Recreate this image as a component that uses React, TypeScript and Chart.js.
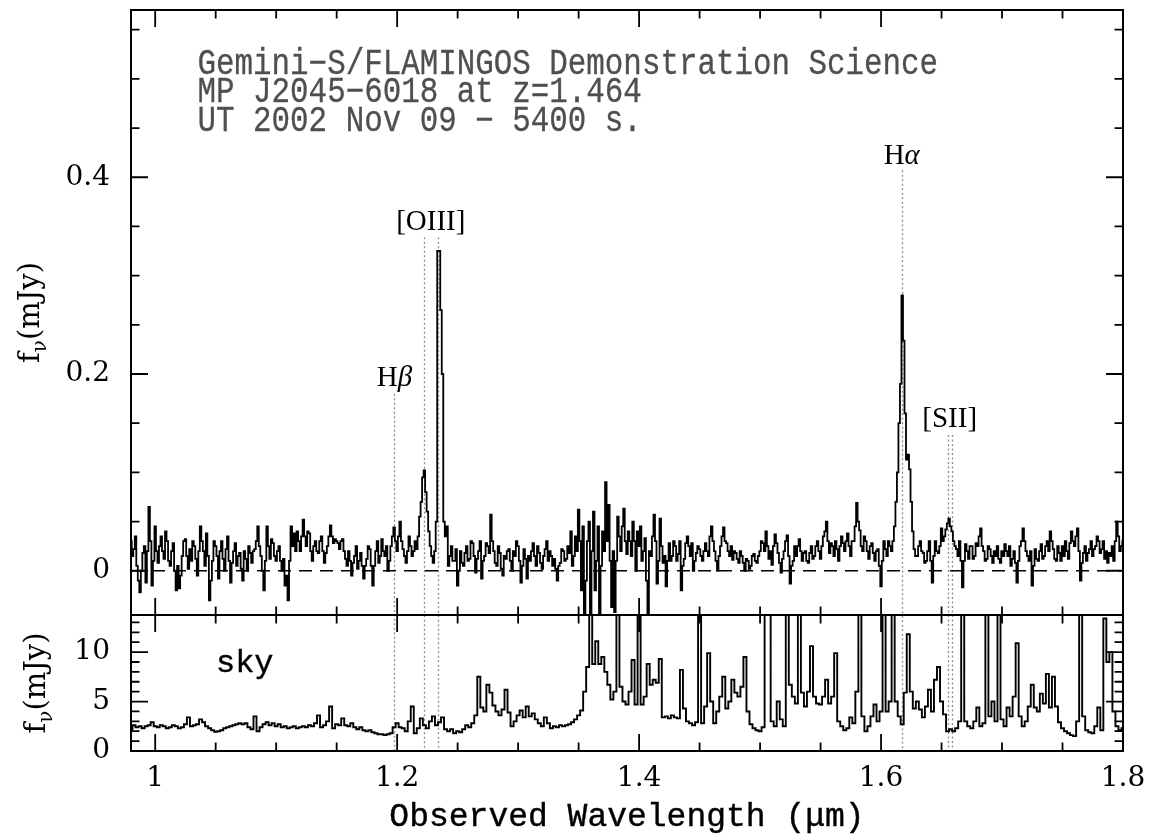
import React, { useEffect, useRef } from "react";
import { Chart, registerables } from "chart.js";

Chart.register(...registerables);

// ---------- data ----------
const WAVE_START = 0.98; // micron, first sample of both spectra
const OBJECT_STEP = 0.00125; // micron per sample (object spectrum)
const SKY_STEP = 0.0025; // micron per sample (sky spectrum)
const X_MIN = 0.98;
const X_MAX = 1.8;
const X_MINOR = 0.05;
const X_MAJOR = 0.2;
const FLUX_MIN = -0.045;
const FLUX_MAX = 0.57;
const SKY_MIN = 0;
const SKY_MAX = 13.75;

const OBJECT_FLUX = [
  0.030, 0.015, 0.022, 0.035, 0.005, -0.010, -0.022, 0.000, 0.018, 0.025, -0.012, 0.020, 0.065, 0.030, -0.015, 0.010, 0.045, 0.020, 0.008, 0.025,
  0.035, 0.020, 0.012, 0.040, 0.030, 0.010, 0.005, 0.020, 0.028, 0.000, -0.020, 0.005, -0.018, -0.005, 0.015, 0.030, 0.032, 0.015, 0.002, 0.022,
  0.010, 0.030, 0.025, 0.012, -0.005, 0.020, 0.045, 0.030, 0.020, 0.005, 0.038, 0.015, -0.030, -0.010, 0.010, 0.030, 0.025, 0.015, -0.008, 0.020,
  0.030, 0.012, 0.000, 0.022, 0.035, 0.010, -0.012, 0.008, 0.020, 0.028, 0.005, 0.015, 0.018, 0.002, -0.010, 0.020, 0.012, 0.000, 0.025, 0.018,
  0.008, 0.020, 0.022, 0.030, 0.045, 0.025, 0.015, 0.000, -0.020, 0.010, 0.045, 0.025, 0.012, 0.032, 0.028, 0.015, 0.010, 0.020, 0.025, 0.010,
  0.000, 0.012, -0.015, -0.005, -0.030, 0.010, 0.045, 0.025, 0.038, 0.020, 0.040, 0.030, 0.020, 0.035, 0.052, 0.035, 0.025, 0.040, 0.038, 0.020,
  0.010, 0.025, 0.030, 0.020, 0.018, 0.030, 0.035, 0.020, 0.008, 0.018, 0.025, 0.035, 0.046, 0.035, 0.028, 0.032, 0.030, 0.028, 0.022, 0.030,
  0.032, 0.020, 0.012, 0.005, 0.020, 0.010, -0.005, 0.008, 0.015, 0.025, 0.002, 0.010, 0.018, 0.005, -0.008, 0.005, 0.012, 0.025, 0.022, 0.005,
  -0.015, 0.005, 0.020, 0.030, 0.008, 0.015, 0.032, 0.020, 0.015, 0.025, 0.000, 0.010, 0.025, 0.035, 0.044, 0.030, 0.020, 0.035, 0.050, 0.030,
  0.022, 0.015, 0.008, 0.020, 0.035, 0.025, 0.015, 0.020, 0.030, 0.022, 0.035, 0.055, 0.070, 0.095, 0.102, 0.080, 0.060, 0.040, 0.025, 0.015,
  0.008, 0.020, 0.050, 0.325, 0.325, 0.265, 0.200, 0.050, 0.035, 0.045, 0.005, 0.015, 0.025, 0.010, 0.010, 0.022, -0.015, 0.000, 0.020, 0.008,
  0.005, 0.018, 0.025, 0.010, 0.012, 0.030, 0.028, 0.015, -0.002, 0.012, 0.020, 0.030, -0.008, 0.010, 0.015, 0.028, 0.025, 0.018, 0.057, 0.030,
  0.020, 0.008, 0.005, 0.025, 0.018, 0.002, -0.005, 0.015, 0.012, 0.020, 0.022, 0.010, 0.000, 0.020, 0.015, 0.030, 0.025, 0.010, -0.012, 0.005,
  0.022, 0.012, -0.008, 0.015, 0.010, 0.020, 0.028, 0.015, 0.005, 0.025, 0.018, 0.008, 0.002, 0.015, 0.022, 0.030, 0.010, 0.020, 0.015, 0.005,
  0.012, 0.002, -0.010, 0.005, 0.008, 0.022, 0.020, 0.010, 0.012, 0.025, 0.018, 0.040, 0.005, 0.015, 0.035, 0.020, 0.062, 0.030, -0.020, 0.045,
  -0.050, -0.010, 0.030, 0.050, -0.045, 0.020, 0.060, -0.020, 0.010, 0.045, -0.050, 0.005, 0.040, 0.020, 0.090, 0.030, 0.067, 0.010, -0.037, 0.020,
  -0.042, 0.010, 0.055, 0.035, 0.020, 0.045, 0.063, 0.030, 0.017, 0.040, 0.030, 0.015, 0.050, 0.030, 0.000, 0.040, 0.025, 0.045, 0.010, 0.020,
  0.033, -0.010, -0.050, 0.020, 0.015, 0.035, 0.057, 0.030, -0.013, 0.010, 0.053, 0.025, 0.008, 0.015, -0.016, 0.010, 0.028, 0.010, 0.015, 0.030,
  0.025, 0.010, 0.017, 0.030, -0.020, 0.005, 0.012, 0.028, 0.035, 0.025, 0.015, 0.028, 0.000, 0.010, 0.018, 0.025, 0.022, 0.015, 0.010, 0.020,
  0.028, 0.020, 0.015, 0.035, 0.045, 0.030, 0.020, 0.010, 0.000, 0.015, 0.025, 0.035, 0.044, 0.030, 0.028, 0.020, 0.015, 0.025, 0.011, 0.020,
  0.018, 0.012, 0.008, 0.020, 0.015, 0.008, 0.000, 0.012, 0.010, 0.002, 0.005, 0.015, 0.017, 0.010, 0.008, 0.015, 0.020, 0.030, 0.028, 0.020,
  0.040, 0.025, 0.012, 0.020, 0.006, 0.025, 0.037, 0.028, 0.018, 0.008, -0.002, 0.012, 0.020, 0.030, 0.036, 0.015, -0.013, 0.005, 0.010, 0.025,
  0.015, 0.025, 0.032, 0.020, 0.010, 0.018, 0.020, 0.010, 0.008, 0.018, 0.025, 0.012, 0.015, 0.025, 0.030, 0.020, 0.012, 0.025, 0.035, 0.040,
  0.050, 0.030, 0.018, 0.028, 0.025, 0.015, 0.030, 0.022, 0.010, 0.025, 0.035, 0.028, 0.020, 0.030, 0.038, 0.025, 0.015, 0.030, 0.030, 0.045,
  0.069, 0.050, 0.041, 0.025, 0.020, 0.035, 0.030, 0.020, 0.012, 0.025, 0.028, 0.018, 0.010, 0.020, 0.022, 0.005, -0.016, 0.010, 0.030, 0.022,
  0.015, 0.030, 0.025, 0.020, 0.030, 0.045, 0.070, 0.100, 0.150, 0.190, 0.280, 0.234, 0.160, 0.113, 0.118, 0.103, 0.070, 0.040, 0.022, 0.015,
  0.015, 0.025, 0.030, 0.020, 0.018, 0.008, 0.010, 0.020, 0.030, 0.010, -0.012, 0.015, 0.030, 0.020, 0.018, 0.025, 0.043, 0.030, 0.035, 0.042,
  0.048, 0.053, 0.045, 0.040, 0.030, 0.025, 0.022, 0.015, 0.030, 0.010, -0.017, 0.010, 0.027, 0.020, 0.012, 0.025, 0.025, 0.012, 0.015, 0.028,
  0.025, 0.035, 0.043, 0.025, 0.020, 0.010, 0.012, 0.025, 0.022, 0.015, 0.008, 0.020, 0.015, 0.025, 0.012, 0.008, 0.020, 0.015, 0.027, 0.020,
  0.015, 0.025, 0.005, 0.012, 0.020, 0.008, -0.012, 0.010, 0.025, 0.030, 0.043, 0.030, 0.020, 0.015, 0.010, 0.020, -0.015, 0.005, 0.022, 0.012,
  0.010, 0.020, 0.027, 0.012, 0.015, 0.025, 0.030, 0.020, 0.040, 0.030, 0.022, 0.012, 0.010, 0.025, 0.018, 0.010, 0.025, 0.015, 0.030, 0.020,
  0.012, 0.028, 0.040, 0.030, 0.025, 0.035, 0.043, 0.020, -0.010, 0.008, 0.018, 0.025, 0.010, 0.018, 0.022, 0.030, 0.015, 0.022, 0.025, 0.035,
  0.030, 0.018, 0.022, 0.030, 0.012, 0.020, 0.008, 0.018, 0.015, 0.025, 0.010, 0.030, 0.050, 0.035, 0.020, 0.025, 0.030,
];

const SKY_FLUX = [
  2.2, 2.6, 2.4, 2.5, 2.3, 2.5, 2.6, 2.9, 2.5, 2.4, 2.6, 2.5, 2.3, 2.4, 2.6, 2.5, 2.3, 2.4, 2.7, 3.4,
  2.5, 2.6, 2.7, 3.2, 2.9, 2.5, 2.3, 2.1, 1.95, 2.0, 2.1, 2.3, 2.4, 2.5, 2.6, 2.7, 2.8, 2.7, 2.8, 2.4,
  2.2, 3.5, 2.0, 2.4, 2.7, 2.9, 2.6, 2.8, 2.5, 2.7, 2.4, 2.5, 2.3, 2.4, 2.5, 2.3, 2.4, 2.5, 2.4, 2.6,
  2.5, 2.8, 3.6, 2.4, 2.6, 3.0, 4.5, 2.3, 2.7, 2.6, 3.3, 2.6, 2.5, 2.8, 2.4, 2.2, 2.4, 2.1, 2.0, 2.1,
  1.9, 1.8, 1.7, 1.7, 1.6, 1.7, 1.8, 2.4, 2.8, 2.4, 2.3, 2.0, 3.0, 4.5, 1.8, 2.3, 3.3, 2.6, 2.3, 3.0,
  3.5, 2.6, 2.9, 3.4, 2.2, 2.0, 2.2, 1.8, 2.0, 1.9, 2.2, 2.6, 2.4, 2.8, 3.6, 7.5, 4.4, 4.0, 6.7, 5.9,
  4.6, 4.0, 3.6, 4.2, 6.2, 3.9, 2.5, 3.0, 3.6, 4.1, 3.4, 4.5, 3.5, 3.8, 3.2, 2.8, 2.5, 3.4, 2.8, 2.3,
  2.5, 2.4, 2.6, 2.5, 2.6, 2.7, 2.9, 3.2, 3.6, 4.1, 6.0, 8.5, 18, 8.8, 11.1, 8.8, 9.5, 8.0, 6.7, 5.2,
  6.0, 20, 6.5, 5.0, 4.7, 6.0, 9.2, 4.7, 18, 4.7, 5.5, 8.8, 6.7, 7.2, 6.9, 9.3, 3.4, 3.5, 3.3, 3.6,
  3.4, 3.3, 8.2, 4.3, 3.0, 2.8, 2.6, 2.9, 22, 2.8, 4.5, 9.9, 5.0, 2.8, 4.0, 5.5, 7.5, 4.3, 5.0, 7.2,
  5.9, 5.5, 6.5, 9.5, 4.0, 2.7, 2.3, 2.1, 2.0, 2.4, 20, 18, 3.0, 2.5, 5.0, 3.2, 2.5, 17, 6.7, 5.5,
  4.8, 19, 5.9, 4.5, 6.0, 10.6, 5.5, 4.8, 4.7, 5.5, 7.2, 4.8, 5.5, 9.9, 3.0, 2.5, 2.1, 2.3, 3.4, 2.8,
  6.0, 20, 3.5, 2.0, 2.5, 3.5, 4.7, 3.0, 4.0, 19, 4.0, 5.0, 18, 5.0, 3.5, 2.7, 5.9, 11.8, 6.0, 4.3,
  5.0, 4.2, 3.4, 4.5, 6.2, 4.0, 7.2, 8.5, 5.0, 3.7, 2.0, 2.2, 2.0, 2.3, 3.0, 21, 3.0, 2.5, 2.3, 3.0,
  4.4, 2.5, 2.8, 19, 3.5, 5.0, 3.0, 20, 3.2, 2.5, 4.4, 3.5, 5.5, 10.9, 3.5, 2.5, 3.0, 4.5, 6.7, 4.4,
  4.0, 5.8, 4.8, 7.8, 4.4, 7.5, 4.5, 2.9, 2.3, 2.0, 1.8, 1.6, 1.5, 3.0, 19, 3.5, 2.1, 1.9, 1.8, 2.5,
  4.4, 2.1, 13.4, 9.0, 10.0, 4.0, 2.5, 2.1, 2.3,
];

const ZERO_LEVEL = [0, 0];

const LINE_LABELS = ["Hβ", "[OIII]", "Hα", "[SII]"];
const LINE_WAVELENGTHS = [[1.1978], [1.2219, 1.2337], [1.6171], [1.655, 1.6585]];
const LINE_MARK_TOP = [0.18, 0.339, 0.407, 0.138];
const LINE_LABEL_BASE = [0.188, 0.346, 0.413, 0.146];

const NOTE_LINES = [
  "Gemini−S/FLAMINGOS Demonstration Science",
  "MP J2045−6018 at z=1.464",
  "UT 2002 Nov 09 − 5400 s.",
];
const NOTE_X = 1.035;
const NOTE_Y = [0.505, 0.476, 0.447];
const SKY_LABEL = "sky";
const SKY_LABEL_POS = [1.0502, 8.0];
const X_TITLE = "Observed Wavelength (μm)";

// ---------- drawing helpers ----------
const MONO = "'Liberation Mono', 'Courier New', monospace";
const SERIF = "'DejaVu Serif', serif";
const TIMES = "'Liberation Serif', 'Times New Roman', serif";

function drawPanel(ctx: CanvasRenderingContext2D, x: any, y: any, yMinor: number, yMajor: number) {
  const l = x.left, r = x.right, t = y.top, b = y.bottom;
  ctx.save();
  ctx.setLineDash([]);
  ctx.strokeStyle = "#000";
  ctx.lineWidth = 2;
  ctx.strokeRect(l, t, r - l, b - t);
  ctx.lineWidth = 1.8;
  ctx.beginPath();
  const kx0 = Math.ceil(X_MIN / X_MINOR - 1e-9);
  const kx1 = Math.floor(X_MAX / X_MINOR + 1e-9);
  for (let k = kx0; k <= kx1; k++) {
    const v = k * X_MINOR;
    const major = Math.abs(v / X_MAJOR - Math.round(v / X_MAJOR)) < 1e-6;
    const len = major ? 17 : 8.5;
    const px = x.getPixelForValue(v);
    ctx.moveTo(px, b);
    ctx.lineTo(px, b - len);
    ctx.moveTo(px, t);
    ctx.lineTo(px, t + len);
  }
  const ky0 = Math.ceil(y.min / yMinor - 1e-9);
  const ky1 = Math.floor(y.max / yMinor + 1e-9);
  for (let k = ky0; k <= ky1; k++) {
    const v = k * yMinor;
    const major = Math.abs(v / yMajor - Math.round(v / yMajor)) < 1e-6;
    const len = major ? 17 : 8.5;
    const py = y.getPixelForValue(v);
    ctx.moveTo(l, py);
    ctx.lineTo(l + len, py);
    ctx.moveTo(r, py);
    ctx.lineTo(r - len, py);
  }
  ctx.stroke();
  ctx.restore();
}

function drawYTitle(ctx: CanvasRenderingContext2D, baseX: number, centerY: number) {
  const fMain = `29px ${SERIF}`;
  const fSub = `20px ${SERIF}`;
  ctx.save();
  ctx.translate(baseX, centerY);
  ctx.rotate(-Math.PI / 2);
  ctx.fillStyle = "#000";
  ctx.textAlign = "left";
  ctx.textBaseline = "alphabetic";
  ctx.font = fMain;
  const wf = ctx.measureText("f").width;
  const wp = ctx.measureText("(mJy)").width;
  ctx.font = fSub;
  const wn = ctx.measureText("ν").width;
  const start = -(wf + wn + wp) / 2;
  ctx.font = fMain;
  ctx.fillText("f", start, 0);
  ctx.font = fSub;
  ctx.fillText("ν", start + wf, 7);
  ctx.font = fMain;
  ctx.fillText("(mJy)", start + wf + wn, 0);
  ctx.restore();
}

function heavyText(ctx: CanvasRenderingContext2D, s: string, px: number, py: number, w: number) {
  ctx.fillText(s, px, py);
  ctx.lineWidth = w;
  ctx.strokeText(s, px, py);
}

const decorPlugin = {
  id: "spectrumDecor",
  beforeDatasetsDraw(chart: any) {
    const { ctx, scales } = chart;
    const x = scales.x, yt = scales.y, ys = scales.ySky;
    ctx.save();
    ctx.strokeStyle = "#8c8c8c";
    ctx.lineWidth = 1.3;
    ctx.setLineDash([2, 2.5]);
    LINE_WAVELENGTHS.forEach((ws, k) => {
      ws.forEach((w) => {
        const px = Math.round(x.getPixelForValue(w)) + 0.5;
        ctx.beginPath();
        ctx.moveTo(px, yt.getPixelForValue(LINE_MARK_TOP[k]));
        ctx.lineTo(px, ys.bottom);
        ctx.stroke();
      });
    });
    ctx.restore();
  },
  beforeDatasetDraw(chart: any, args: any) {
    const ys = args.meta.yScale;
    const a = chart.chartArea;
    chart.ctx.save();
    chart.ctx.beginPath();
    chart.ctx.rect(a.left, ys.top, a.right - a.left, ys.bottom - ys.top);
    chart.ctx.clip();
  },
  afterDatasetDraw(chart: any) {
    chart.ctx.restore();
  },
  afterDatasetsDraw(chart: any) {
    const { ctx, scales } = chart;
    const x = scales.x, yt = scales.y, ys = scales.ySky;
    drawPanel(ctx, x, yt, 0.05, 0.2);
    drawPanel(ctx, x, ys, 1, 5);

    // annotation block
    ctx.save();
    ctx.fillStyle = "#4f4f4f";
    ctx.strokeStyle = "#4f4f4f";
    ctx.font = `36px ${MONO}`;
    ctx.textAlign = "left";
    ctx.textBaseline = "alphabetic";
    NOTE_LINES.forEach((s, i) => {
      ctx.save();
      ctx.translate(x.getPixelForValue(NOTE_X), yt.getPixelForValue(NOTE_Y[i]));
      ctx.scale(0.857, 1);
      heavyText(ctx, s, 0, 0, 0.3);
      ctx.restore();
    });
    ctx.restore();

    // x axis title
    ctx.save();
    ctx.fillStyle = "#000";
    ctx.strokeStyle = "#000";
    ctx.font = `33px ${MONO}`;
    ctx.textAlign = "center";
    ctx.textBaseline = "alphabetic";
    heavyText(ctx, X_TITLE, (x.left + x.right) / 2, x.bottom - 8, 0.4);
    ctx.restore();

    // emission line labels
    ctx.save();
    ctx.fillStyle = "#000";
    ctx.textAlign = "left";
    ctx.textBaseline = "alphabetic";
    const fMain = `29px ${TIMES}`;
    const fGreek = `italic 29px ${TIMES}`;
    LINE_LABELS.forEach((lab, k) => {
      const ws = LINE_WAVELENGTHS[k];
      const cx = x.getPixelForValue(ws.reduce((a, b) => a + b, 0) / ws.length);
      const by = yt.getPixelForValue(LINE_LABEL_BASE[k]);
      const greek = /[α-ω]$/.test(lab);
      const main = greek ? lab.slice(0, -1) : lab;
      const g = greek ? lab.slice(-1) : "";
      ctx.font = fMain;
      const w1 = ctx.measureText(main).width;
      ctx.font = fGreek;
      const w2 = g ? ctx.measureText(g).width : 0;
      const sx = cx - (w1 + w2) / 2;
      ctx.font = fMain;
      ctx.fillText(main, sx, by);
      if (g) {
        ctx.font = fGreek;
        ctx.fillText(g, sx + w1, by);
      }
    });
    ctx.restore();

    // sky label
    ctx.save();
    ctx.fillStyle = "#000";
    ctx.strokeStyle = "#000";
    ctx.font = `32px ${MONO}`;
    ctx.textAlign = "left";
    ctx.textBaseline = "alphabetic";
    heavyText(ctx, SKY_LABEL, x.getPixelForValue(SKY_LABEL_POS[0]), ys.getPixelForValue(SKY_LABEL_POS[1]), 0.4);
    ctx.restore();

    // y titles
    drawYTitle(ctx, 38.5, (yt.top + yt.bottom) / 2);
    drawYTitle(ctx, 45, (ys.top + ys.bottom) / 2);
  },
};

const fmtTick = (v: any) => String(Math.round(Number(v) * 1000) / 1000);

export default function App() {
  const canvasRef = useRef<HTMLCanvasElement | null>(null);

  useEffect(() => {
    const canvas = canvasRef.current;
    if (!canvas) return;
    const objectPoints = OBJECT_FLUX.map((v, i) => ({ x: WAVE_START + i * OBJECT_STEP, y: v }));
    const skyPoints = SKY_FLUX.map((v, i) => ({ x: WAVE_START + i * SKY_STEP, y: v }));
    const zeroPoints = [
      { x: X_MIN, y: ZERO_LEVEL[0] },
      { x: X_MAX, y: ZERO_LEVEL[1] },
    ];
    const tickFont = { family: SERIF, size: 28 };
    const noPad = (s: any) => {
      s.paddingTop = 0;
      s.paddingBottom = 0;
      s.paddingLeft = 0;
      s.paddingRight = 0;
    };

    const chart = new Chart(canvas, {
      type: "line",
      data: {
        datasets: [
          {
            label: "zero",
            data: zeroPoints,
            xAxisID: "x",
            yAxisID: "y",
            borderColor: "#000",
            borderWidth: 1.5,
            borderDash: [13, 8],
            pointRadius: 0,
            fill: false,
          },
          {
            label: "MP J2045-6018",
            data: objectPoints,
            xAxisID: "x",
            yAxisID: "y",
            borderColor: "#000",
            borderWidth: 1.8,
            pointRadius: 0,
            stepped: "middle",
            fill: false,
          },
          {
            label: "sky",
            data: skyPoints,
            xAxisID: "x",
            yAxisID: "ySky",
            borderColor: "#000",
            borderWidth: 1.9,
            pointRadius: 0,
            stepped: "middle",
            fill: false,
          },
        ],
      },
      options: {
        responsive: false,
        animation: false,
        events: [],
        layout: { padding: { left: 0, top: 10, right: 28, bottom: 0 } },
        plugins: { legend: { display: false }, tooltip: { enabled: false } },
        scales: {
          x: {
            type: "linear",
            position: "bottom",
            min: X_MIN,
            max: X_MAX,
            grid: { display: false, drawTicks: false },
            border: { display: false },
            ticks: {
              stepSize: X_MAJOR,
              includeBounds: false,
              autoSkip: false,
              maxRotation: 0,
              font: tickFont,
              color: "#000",
              padding: 11,
              callback: fmtTick,
            },
            title: { display: false },
            afterFit: (s: any) => {
              s.height = 83;
              noPad(s);
            },
          },
          y: {
            type: "linear",
            position: "left",
            stack: "panels",
            stackWeight: 605,
            weight: 1,
            min: FLUX_MIN,
            max: FLUX_MAX,
            grid: { display: false, drawTicks: false },
            border: { display: false },
            ticks: {
              stepSize: 0.2,
              includeBounds: false,
              font: tickFont,
              color: "#000",
              padding: 21,
              callback: fmtTick,
            },
            afterFit: (s: any) => {
              s.width = 131;
              noPad(s);
            },
          },
          ySky: {
            type: "linear",
            position: "left",
            stack: "panels",
            stackWeight: 136,
            weight: 0,
            min: SKY_MIN,
            max: SKY_MAX,
            grid: { display: false, drawTicks: false },
            border: { display: false },
            ticks: {
              stepSize: 5,
              includeBounds: false,
              font: tickFont,
              color: "#000",
              padding: 21,
              callback: fmtTick,
            },
            afterFit: (s: any) => {
              s.width = 131;
              noPad(s);
            },
          },
        },
      },
      plugins: [decorPlugin],
    } as any);

    return () => {
      chart.destroy();
    };
  }, []);

  return (
    <div style={{ position: "absolute", left: 0, top: 0, width: 1151, height: 834, background: "#fff" }}>
      <canvas ref={canvasRef} width={1151} height={834} style={{ display: "block", width: 1151, height: 834 }} />
    </div>
  );
}
